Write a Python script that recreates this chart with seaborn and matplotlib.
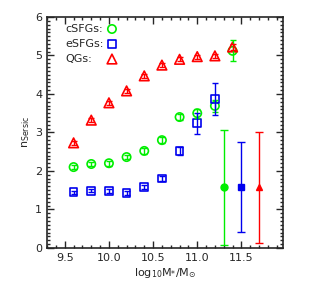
import numpy as np
import pandas as pd
import seaborn as sns
import matplotlib.pyplot as plt
from matplotlib.ticker import MultipleLocator

# binned stellar mass
mass = [9.6, 9.8, 10.0, 10.2, 10.4, 10.6, 10.8, 11.0, 11.2, 11.4]

# median Sersic index per bin
n_csfg = [2.10, 2.18, 2.20, 2.36, 2.52, 2.80, 3.40, 3.50, 3.69, 5.12]
err_csfg = [0.06, 0.06, 0.06, 0.06, 0.07, 0.07, 0.08, 0.12, 0.15, 0.27]
mass_esfg = [9.6, 9.8, 10.0, 10.2, 10.4, 10.6, 10.8, 11.0, 11.2]
n_esfg = [1.45, 1.48, 1.48, 1.42, 1.58, 1.80, 2.52, 3.24, 3.87]
err_esfg = [0.04, 0.04, 0.05, 0.05, 0.06, 0.07, 0.10, 0.27, 0.42]
n_qg = [2.73, 3.32, 3.77, 4.08, 4.47, 4.75, 4.90, 4.97, 4.99, 5.22]
err_qg = [0.05, 0.05, 0.05, 0.05, 0.05, 0.05, 0.05, 0.05, 0.05, 0.08]

# typical error bars shown at the right
typ_x = [11.3, 11.5, 11.7]
typ_y = [1.59, 1.59, 1.59]
typ_lo = [1.51, 1.17, 1.45]
typ_hi = [1.47, 1.17, 1.43]

labels = ['cSFGs:', 'eSFGs:', 'QGs:']

green, blue, red = '#00ee00', '#0000ee', '#ff0000'

sns.set_style('ticks')
fig = plt.figure(figsize=(3.14, 2.83), dpi=100)
ax = fig.add_axes([0.150, 0.124, 0.751, 0.816])

df_c = pd.DataFrame({'mass': mass, 'n': n_csfg})
df_e = pd.DataFrame({'mass': mass_esfg, 'n': n_esfg})
df_q = pd.DataFrame({'mass': mass, 'n': n_qg})

ax.errorbar(mass, n_csfg, yerr=err_csfg, fmt='none', ecolor=green, elinewidth=1, capsize=2)
ax.errorbar(mass_esfg, n_esfg, yerr=err_esfg, fmt='none', ecolor=blue, elinewidth=1, capsize=2)
ax.errorbar(mass, n_qg, yerr=err_qg, fmt='none', ecolor=red, elinewidth=1, capsize=2)

styles = [('o', 36, green), ('s', 30, blue), ('^', 48, red)]
for df, (m, s, c) in zip([df_c, df_e, df_q], styles):
    sns.scatterplot(data=df, x='mass', y='n', marker=m, s=s, facecolors='none',
                    edgecolor=c, linewidth=1.2, ax=ax, legend=False)

for x, y, lo, hi, c, m in zip(typ_x, typ_y, typ_lo, typ_hi, [green, blue, red], ['o', 's', '^']):
    ax.errorbar([x], [y], yerr=[[lo], [hi]], fmt=m, color=c, ms=5, elinewidth=1, capsize=3)

# hand-made legend: left-aligned labels, symbols in a column to the right
for i, (lab, (m, s, c)) in enumerate(zip(labels, styles)):
    yy = 0.948 - i * 0.065
    ax.text(0.076, yy, lab, transform=ax.transAxes, fontsize=8, va='center', ha='left')
    ax.scatter([0.275], [yy], transform=ax.transAxes, marker=m, s=s, facecolors='none',
               edgecolors=c, linewidths=1.2, clip_on=False)

ax.set_xlim(9.3, 11.97)
ax.set_ylim(0, 6)
ax.xaxis.set_major_locator(MultipleLocator(0.5))
ax.xaxis.set_minor_locator(MultipleLocator(0.1))
ax.yaxis.set_major_locator(MultipleLocator(1))
ax.yaxis.set_minor_locator(MultipleLocator(0.1))
ax.xaxis.set_major_formatter(plt.FormatStrFormatter('%.1f'))
ax.tick_params(which='both', direction='in', top=True, right=True, labelsize=8, width=1)
ax.tick_params(which='major', length=5)
ax.tick_params(which='minor', length=2.5)
for s in ax.spines.values():
    s.set_linewidth(1.2)

ax.set_xlabel(r'log$_{10}$M$_{*}$/M$_{\odot}$', fontsize=8, labelpad=2)
ax.set_ylabel(r'n$_{\mathrm{Sersic}}$', fontsize=8, labelpad=2)

fig.savefig('out.png', dpi=100)
